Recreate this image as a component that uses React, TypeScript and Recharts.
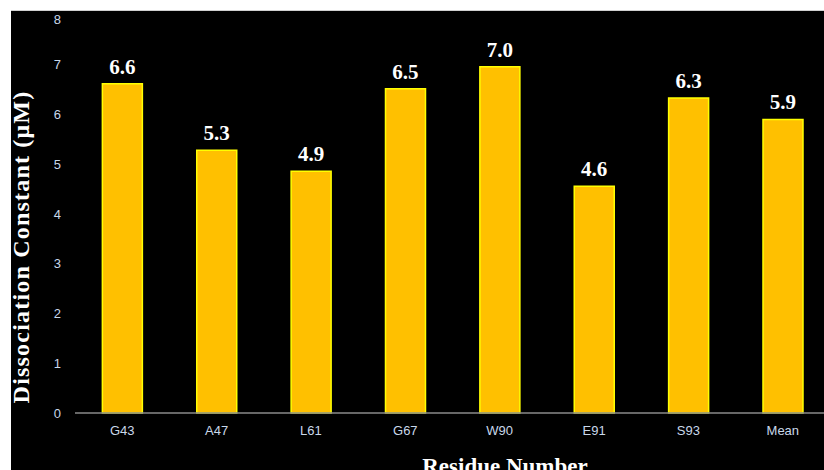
import { BarChart, Bar, XAxis, YAxis, LabelList, Label } from "recharts";

const residues = ["G43", "A47", "L61", "G67", "W90", "E91", "S93", "Mean"];
const kdValues = [6.62, 5.28, 4.86, 6.52, 6.96, 4.56, 6.33, 5.9];
const yTicks = [0, 1, 2, 3, 4, 5, 6, 7, 8];

const data = residues.map((name, i) => ({ name, kd: kdValues[i] }));

const tickStyle = { fill: "#c9d8ea", fontSize: 13, fontFamily: "'Liberation Sans', sans-serif" };
const titleFont = "'Liberation Serif', 'DejaVu Serif', serif";

export default function App() {
  return (
    <div
      style={{
        position: "fixed",
        left: 0,
        top: 0,
        width: 824,
        height: 470,
        overflow: "hidden",
        background: "#fff",
      }}
    >
      <div
        style={{
          position: "absolute",
          left: 11,
          top: 10,
          width: 900,
          height: 500,
          background: "#000",
          borderTop: "1px solid #d0d0d0",
          boxSizing: "border-box",
        }}
      >
        <BarChart
          width={900}
          height={499}
          data={data}
          margin={{ top: 4, right: 81, bottom: 67, left: 0 }}
          barCategoryGap="29%"
        >
          <XAxis
            dataKey="name"
            axisLine={{ stroke: "#8a8a8a", strokeWidth: 1.5 }}
            tickLine={false}
            tick={tickStyle}
            tickMargin={7}
            height={30}
            interval={0}
          >
            <Label
              content={(props: any) => {
                const vb = props.viewBox;
                return (
                  <text
                    x={vb.x + 430}
                    y={vb.y + 61}
                    textAnchor="middle"
                    fill="#fff"
                    fontWeight="bold"
                    fontSize={23}
                    fontFamily={titleFont}
                  >
                    Residue Number
                  </text>
                );
              }}
            />
          </XAxis>
          <YAxis
            domain={[0, 8]}
            ticks={yTicks}
            axisLine={false}
            tickLine={false}
            tick={tickStyle}
            tickMargin={8}
            width={64}
          >
            <Label
              content={(props: any) => {
                const vb = props.viewBox;
                const cx = vb.x + 18;
                const cy = vb.y + 232;
                return (
                  <text
                    x={cx}
                    y={cy}
                    transform={`rotate(-90 ${cx} ${cy})`}
                    textAnchor="middle"
                    fill="#fff"
                    fontWeight="bold"
                    fontSize={24}
                    letterSpacing={1.2}
                    fontFamily={titleFont}
                  >
                    Dissociation Constant (μM)
                  </text>
                );
              }}
            />
          </YAxis>
          <Bar dataKey="kd" fill="#ffc000" stroke="#ffff00" strokeWidth={1.5} isAnimationActive={false}>
            <LabelList
              dataKey="kd"
              position="top"
              offset={10}
              formatter={(v: any) => Number(v).toFixed(1)}
              fill="#fff"
              fontWeight="bold"
              fontSize={21}
              fontFamily={titleFont}
            />
          </Bar>
        </BarChart>
      </div>
    </div>
  );
}
